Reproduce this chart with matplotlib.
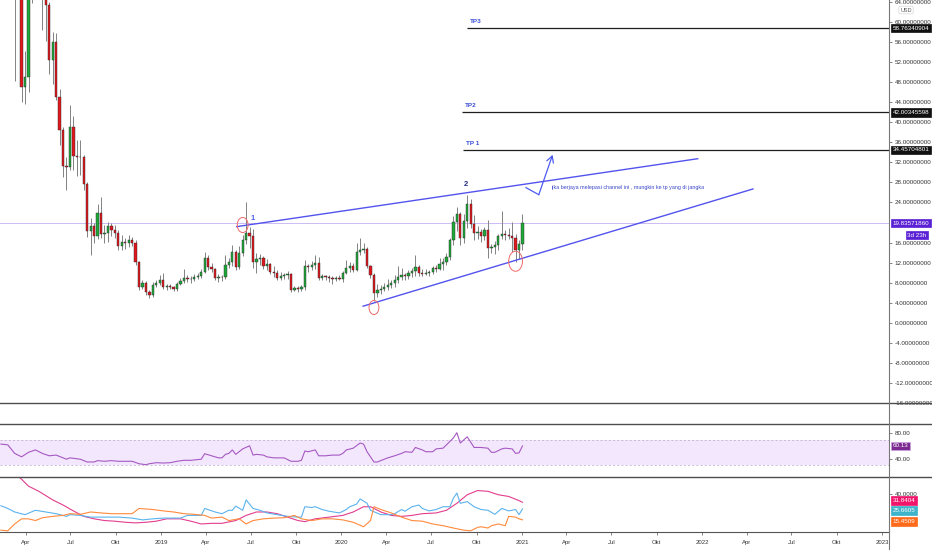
import numpy as np
import pandas as pd
import matplotlib
matplotlib.use('Agg')
from matplotlib import pyplot as plt
import matplotlib.dates as mdates
from matplotlib.patches import Ellipse
from matplotlib.lines import Line2D
from matplotlib.ticker import FormatStrFormatter

plt.rcParams['font.family'] = ['Liberation Sans', 'DejaVu Sans']

# weekly candles, USD
weeks = pd.date_range('2018-03-05', periods=148, freq='7D')
opens = [72, 68, 66, 47.1, 49.0, 70, 72, 80, 75, 66, 63.4, 52.4, 56.0, 45.1, 38.5, 31.2, 31.0, 39.0, 33.3, 33.1,
         33.0, 27.6, 18.4, 19.4, 17.4, 21.8, 17.8, 18.0, 19.4, 18.6, 18.0, 15.3, 16.2, 16.0, 16.6, 16.0, 12.2, 7.2, 8.0, 6.2,
         5.6, 7.6, 8.0, 8.6, 7.2, 7.3, 7.2, 6.8, 7.8, 8.4, 9.0, 8.7, 8.8, 9.2, 9.4, 10.2, 13.0, 11.2, 10.8, 9.0,
         9.2, 9.1, 11.6, 12.2, 14.2, 11.2, 14.0, 16.6, 18.0, 17.4, 12.2, 12.8, 13.0, 11.4, 11.8, 10.2, 10.0, 9.0, 9.4, 9.6,
         9.8, 6.6, 7.0, 6.8, 7.2, 11.4, 11.2, 11.6, 12.0, 9.0, 9.4, 9.1, 9.0, 8.8, 9.0, 8.8, 10.0, 11.0, 11.4, 10.6,
         14.2, 14.6, 14.8, 11.4, 9.6, 6.0, 6.6, 6.8, 7.2, 7.6, 8.0, 8.6, 9.2, 9.6, 9.4, 10.0, 10.4, 11.2, 10.0, 9.8,
         10.0, 10.1, 11.0, 10.8, 11.8, 12.2, 13.2, 16.6, 20.2, 21.6, 17.0, 20.4, 23.6, 19.8, 18.0, 18.2, 17.4, 18.6, 15.0, 15.2,
         15.6, 17.4, 17.8, 17.6, 17.4, 17.0, 14.6, 15.8]
highs = [80, 76, 70, 54.2, 75, 85, 90, 88, 80, 70, 64.0, 58.0, 57.8, 46.6, 39.0, 33.0, 43.5, 41.3, 36.5, 36.5,
         33.5, 28.0, 20.9, 20.0, 23.6, 25.1, 19.6, 20.2, 20.0, 19.6, 18.6, 17.6, 17.0, 17.6, 17.2, 16.6, 12.4, 8.6, 8.4, 6.6,
         8.1, 8.6, 9.6, 10.0, 7.8, 7.8, 7.4, 8.2, 9.0, 10.8, 9.6, 9.4, 9.8, 10.0, 10.8, 14.2, 13.6, 12.0, 11.0, 9.8,
         9.6, 13.6, 13.0, 15.6, 14.6, 15.4, 17.6, 24.1, 19.2, 18.8, 14.0, 13.8, 13.4, 12.8, 12.0, 11.4, 10.6, 10.2, 10.0, 10.4,
         10.0, 7.4, 7.4, 7.6, 12.6, 11.8, 12.4, 13.6, 13.2, 9.8, 9.6, 9.6, 9.4, 9.4, 9.6, 10.4, 12.6, 12.2, 12.0, 16.0,
         17.0, 16.0, 15.2, 11.6, 10.0, 7.8, 7.6, 8.0, 8.8, 8.6, 9.6, 11.4, 11.0, 10.0, 10.6, 11.0, 13.6, 11.6, 10.8, 10.8,
         10.6, 11.4, 11.6, 13.0, 13.0, 14.0, 17.0, 21.2, 23.0, 22.0, 21.6, 25.5, 24.6, 21.4, 19.4, 18.8, 19.2, 20.6, 15.8, 16.4,
         17.8, 22.2, 18.6, 19.0, 20.2, 17.8, 16.6, 21.6]
lows = [48.2, 65, 44.0, 43.7, 46.0, 63.8, 66, 65, 58.4, 56.2, 49.6, 47.6, 44.4, 35.5, 29.0, 26.5, 30.5, 30.5, 29.2, 29.4,
        26.5, 17.2, 13.6, 16.0, 16.8, 17.0, 16.0, 16.2, 17.4, 17.0, 14.6, 14.6, 14.8, 15.2, 15.4, 11.6, 6.6, 6.8, 5.6, 5.0,
        5.2, 7.2, 7.6, 6.8, 6.6, 6.8, 6.4, 6.4, 7.6, 8.0, 8.2, 8.0, 8.4, 8.8, 9.0, 10.0, 10.6, 10.2, 8.6, 8.2,
        8.4, 8.8, 11.0, 11.4, 10.6, 10.8, 13.4, 15.8, 15.0, 11.0, 10.0, 11.6, 10.8, 10.6, 9.8, 9.2, 8.6, 8.6, 8.8, 8.8,
        6.2, 6.4, 6.2, 6.4, 6.6, 10.2, 10.6, 10.8, 8.6, 8.6, 8.6, 8.2, 7.8, 8.4, 8.6, 8.2, 9.8, 10.2, 10.2, 10.4,
        13.6, 14.0, 11.0, 9.0, 4.3, 5.2, 5.8, 6.4, 6.6, 7.0, 7.2, 8.0, 8.6, 8.6, 8.8, 9.2, 9.4, 9.4, 9.4, 9.6,
        9.4, 9.8, 10.2, 10.6, 10.6, 11.6, 12.6, 15.6, 18.4, 15.6, 16.0, 19.0, 19.0, 16.6, 16.8, 16.2, 16.6, 13.0, 14.0, 13.8,
        14.6, 16.8, 16.6, 16.8, 14.2, 12.2, 12.8, 14.6]
closes = [68, 67, 47.1, 49.0, 70, 72, 80, 75, 66, 63.4, 52.4, 56.0, 45.1, 38.5, 31.2, 31.0, 39.0, 33.3, 33.1, 33.0,
          27.6, 18.4, 19.4, 17.4, 21.8, 17.8, 18.0, 19.4, 18.6, 18.0, 15.3, 16.2, 16.0, 16.6, 16.0, 12.2, 7.2, 8.0, 6.2, 5.6,
          7.6, 8.0, 8.6, 7.2, 7.3, 7.2, 6.8, 7.8, 8.4, 9.0, 8.7, 8.8, 9.2, 9.4, 10.2, 13.0, 11.2, 10.8, 9.0, 9.2,
          9.1, 11.6, 12.2, 14.2, 11.2, 14.0, 16.6, 18.0, 17.4, 12.2, 12.8, 13.0, 11.4, 11.8, 10.2, 10.0, 9.0, 9.4, 9.6, 9.8,
          6.6, 7.0, 6.8, 7.2, 11.4, 11.2, 11.6, 12.0, 9.0, 9.4, 9.1, 9.0, 8.8, 9.0, 8.8, 10.0, 11.0, 11.4, 10.6, 14.2,
          14.6, 14.8, 11.4, 9.6, 6.0, 6.6, 6.8, 7.2, 7.6, 8.0, 8.6, 9.2, 9.6, 9.4, 10.0, 10.4, 11.2, 10.0, 9.8, 10.0,
          10.1, 11.0, 10.8, 11.8, 12.2, 13.2, 16.6, 20.2, 21.6, 17.0, 20.4, 23.6, 19.8, 18.0, 18.2, 17.4, 18.6, 15.0, 15.2, 15.6,
          17.4, 17.8, 17.6, 17.4, 17.0, 14.6, 15.8, 19.83571860]
last_price = 19.83571860

# RSI, week number counted from the first candle
rsi_week = [-4, -2, 0, 2, 4, 6, 8, 10, 12, 15, 16, 19, 21, 23, 24, 26, 28, 30, 32, 34, 36, 38, 39, 41, 43, 45, 47, 49, 51, 54,
            55, 57, 59, 60, 61, 62, 63, 64, 66, 68, 69, 70, 72, 73, 75, 77, 78, 80, 82, 83, 84, 85, 87, 88, 90, 92, 94, 95, 96, 98,
            100, 101, 102, 104, 105, 107, 108, 110, 112, 113, 115, 116, 118, 119, 121, 122, 124, 125, 127, 128, 129, 131, 133, 135,
            137, 138, 139, 141, 142, 144, 145, 146, 147]
rsi_val = [63.0, 61.9, 48.6, 43.3, 50.3, 54.0, 48.6, 44.9, 46.0, 39.6, 41.7, 39.6, 35.3, 35.3, 37.4, 36.4, 37.4, 36.4, 36.4, 36.4,
           32.6, 31.1, 32.6, 34.2, 33.7, 34.2, 36.4, 37.9, 37.9, 39.6, 48.1, 44.9, 41.7, 41.7, 47.1, 48.6, 54.0, 47.1, 55.6, 60.4,
           46.0, 47.1, 46.0, 43.3, 41.7, 41.7, 41.7, 36.4, 36.4, 37.9, 52.3, 51.2, 54.0, 44.9, 44.9, 46.0, 46.0, 48.6, 54.0, 56.7,
           64.7, 63.0, 51.2, 35.3, 35.3, 39.6, 41.7, 44.9, 48.6, 51.2, 50.3, 57.8, 54.0, 51.2, 51.2, 55.6, 56.7, 61.9, 72.6, 80.7,
           64.7, 74.3, 57.8, 57.8, 56.7, 50.3, 50.3, 55.6, 56.7, 55.6, 48.6, 49.5, 60.13]

# DMI: ADX (pink), +DI (blue), -DI (orange)
adx_week = [0, 2, 4, 7, 11, 14, 17, 20, 23, 26, 29, 32, 35, 38, 41, 44, 48, 51, 54, 57, 60, 64, 67, 70, 73, 76, 79, 82, 84, 87,
            91, 95, 98, 101, 103, 106, 109, 112, 115, 118, 122, 125, 128, 131, 134, 137, 140, 143, 146, 147]
adx_val = [59.0, 53.4, 46.9, 42.1, 34.1, 29.3, 23.8, 18.7, 16.4, 14.8, 14.2, 13.2, 12.6, 13.2, 14.2, 16.4, 16.4, 14.2, 11.6, 12.2,
           12.2, 14.8, 19.6, 22.8, 22.8, 21.2, 18.0, 14.8, 13.8, 16.4, 18.0, 19.6, 22.8, 27.7, 27.7, 22.8, 19.6, 18.7, 19.6, 21.2,
           21.9, 24.4, 30.9, 38.9, 42.8, 42.1, 38.9, 37.3, 33.4, 31.8404]
pdi_week = [-4, -2, 0, 3, 6, 9, 12, 15, 16, 19, 22, 26, 30, 34, 37, 40, 43, 46, 48, 50, 54, 55, 58, 60, 62, 63, 64, 66, 67, 69,
            71, 73, 76, 79, 82, 83, 84, 86, 87, 89, 91, 94, 96, 97, 99, 100, 102, 103, 106, 109, 110, 112, 113, 115, 117, 118,
            120, 122, 124, 126, 127, 128, 129, 131, 133, 135, 137, 139, 141, 143, 145, 146, 147]
pdi_val = [28.6, 26.1, 22.8, 20.3, 24.4, 22.8, 21.2, 18.7, 20.3, 19.6, 18.0, 18.0, 18.0, 17.1, 15.4, 16.4, 17.1, 17.1, 17.1, 19.6,
           19.6, 26.1, 22.8, 21.2, 24.4, 24.4, 28.3, 24.4, 34.1, 26.1, 24.4, 21.9, 20.3, 18.7, 18.0, 18.0, 27.7, 27.0, 27.7, 25.1,
           23.5, 21.9, 25.1, 27.7, 30.2, 35.0, 30.9, 24.4, 20.3, 20.3, 21.2, 25.1, 23.5, 27.7, 29.3, 26.1, 23.8, 25.1, 27.7, 27.7,
           35.7, 40.5, 30.9, 32.5, 27.7, 25.1, 24.4, 20.6, 26.1, 23.8, 25.1, 20.3, 25.6605]
mdi_week = [-4, -2, 0, 2, 4, 6, 8, 11, 14, 16, 19, 22, 25, 28, 32, 34, 36, 40, 43, 46, 49, 52, 55, 57, 60, 62, 65, 67, 69, 72,
            75, 78, 81, 83, 86, 89, 92, 95, 98, 101, 103, 104, 106, 109, 112, 115, 118, 121, 124, 127, 130, 132, 134, 135, 137,
            138, 140, 142, 143, 145, 146, 147]
mdi_val = [5.8, 5.2, 11.6, 16.4, 16.4, 14.8, 17.4, 18.7, 19.6, 21.2, 20.6, 22.8, 21.9, 21.2, 21.2, 21.2, 26.1, 25.1, 23.8, 22.8,
           21.2, 20.6, 19.6, 17.1, 18.0, 14.8, 16.4, 11.6, 14.8, 16.4, 17.1, 17.4, 19.6, 16.4, 14.8, 16.4, 16.4, 15.4, 13.2, 9.0,
           14.8, 27.7, 25.1, 21.9, 18.0, 14.8, 14.2, 11.6, 10.0, 7.8, 5.8, 5.2, 8.4, 9.0, 7.8, 10.0, 11.6, 10.0, 18.7, 18.0,
           16.4, 15.4509]

# drawings on the chart
tp_names = ['TP3', 'TP2', 'TP 1']
tp_levels = [58.76340904, 42.00345598, 34.45704801]
tp_start = ['2020-09-12', '2020-09-02', '2020-09-04']
upper_dates = ['2019-06-03', '2021-12-23']
upper_prices = [19.18, 32.72]
lower_dates = ['2020-02-14', '2022-04-14']
lower_prices = [3.32, 26.69]
arrow_dates = ['2021-01-09', '2021-02-04', '2021-03-04']
arrow_prices = [26.95, 25.55, 33.5]
circle_dates = ['2019-06-15', '2020-03-07', '2020-12-19']
circle_prices = [19.5, 3.06, 12.28]
circle_days = [22, 20, 28]
circle_span = [3.0, 2.8, 4.0]
note = 'jika berjaya melepasi channel ini , mungkin ke tp yang di jangka'

BAR_SHIFT = 5  # days, bars drawn a bit into their week


def dnum(d):
    return mdates.date2num(pd.to_datetime(d))


def week_dates(idx):
    return mdates.date2num(weeks[0] + pd.to_timedelta(np.array(idx) * 7, unit='D')) + BAR_SHIFT


W, H = 932, 550
fig = plt.figure(figsize=(W / 100, H / 100), dpi=100)
fig.patch.set_facecolor('white')


def pane(top, bottom):
    return fig.add_axes([0, 1 - bottom / H, 889 / W, (bottom - top) / H])


ax = pane(0, 403.3)
ax_rsi = pane(424.3, 476.7)
ax_dmi = pane(476.7, 532)

t0 = dnum('2021-01-01')
xlim = (t0 - 522 / 0.4935, t0 + 367 / 0.4935)
for a in (ax, ax_rsi, ax_dmi):
    a.set_xlim(*xlim)
    for s in a.spines.values():
        s.set_visible(False)
    a.yaxis.tick_right()
    a.tick_params(axis='y', labelsize=4.5, length=2.5, width=0.5, color='#555555', labelcolor='#333333', pad=1.5)
    a.tick_params(axis='x', bottom=False, labelbottom=False)

# candles
x = mdates.date2num(weeks) + BAR_SHIFT
o, h, l, c = map(np.array, (opens, highs, lows, closes))
up = c >= o
body_lo = np.minimum(o, c)
body_h = np.maximum(np.abs(c - o), 0.12)
ax.vlines(x, l, h, color='#828282', lw=0.7, zorder=2)
ax.bar(x[up], body_h[up], bottom=body_lo[up], width=4.6, color='#1fa83a', edgecolor='#2b2b2b', linewidth=0.3, zorder=3)
ax.bar(x[~up], body_h[~up], bottom=body_lo[~up], width=4.6, color='#e2161d', edgecolor='#2b2b2b', linewidth=0.3, zorder=3)

ax.set_ylim(-16.04, 64.36)
# the 20 label sits under the live price tag, as on the reference
ax.set_yticks([v for v in np.arange(-16, 65, 4) if v != 20])
ax.yaxis.set_major_formatter(FormatStrFormatter('%.8f'))
ax.axhline(last_price, color='#c3b2f2', lw=0.6, zorder=1)

# targets
ax.hlines(tp_levels, [dnum(d) for d in tp_start], xlim[1], color='#1e1e1e', lw=0.9, zorder=4)
for name, lev, d in zip(tp_names, tp_levels, tp_start):
    ax.annotate(name, xy=(dnum(d), lev), xytext=(2, 5), textcoords='offset points',
                fontsize=4.6, color='#3a4fd8', va='center', ha='left', fontweight='bold')

# channel
ax.plot([dnum(d) for d in upper_dates], upper_prices, color='#5353ee', lw=1.0, zorder=5)
ax.plot([dnum(d) for d in lower_dates], lower_prices, color='#5353ee', lw=1.0, zorder=5)
for d, p, w, hh in zip(circle_dates, circle_prices, circle_days, circle_span):
    ax.add_patch(Ellipse((dnum(d), p), w, hh, fill=False, ec='#ee6a6a', lw=0.7, zorder=6))
ax.text(dnum('2019-07-05'), 20.76, '1', fontsize=5.5, color='#4d5fee', ha='center', va='center', fontweight='bold')
ax.text(dnum('2020-09-10'), 27.55, '2', fontsize=5.5, color='#232a80', ha='center', va='center', fontweight='bold')

ax.plot([dnum(d) for d in arrow_dates[:2]], arrow_prices[:2], color='#4e5cf0', lw=0.9)
ax.annotate('', xy=(dnum(arrow_dates[2]), arrow_prices[2]), xytext=(dnum(arrow_dates[1]), arrow_prices[1]),
            arrowprops=dict(arrowstyle='->,head_length=0.45,head_width=0.25', color='#4e5cf0', lw=0.9,
                            shrinkA=0, shrinkB=0))
ax.text(dnum('2021-02-28'), 26.95, note, fontsize=3.9, color='#3a46c8', ha='left', va='center')


def price_tag(a, value, text, fc, ec=None, dx=2.5, dy=0, ha='left', pad=0.3):
    a.annotate(text, xy=(1, value), xycoords=a.get_yaxis_transform(), xytext=(dx, dy),
               textcoords='offset points', ha=ha, va='center', fontsize=4.5, color='white',
               bbox=dict(boxstyle='square,pad=%s' % pad, fc=fc, ec=ec or fc, lw=0.5),
               annotation_clip=False, zorder=10)


for lev in tp_levels:
    price_tag(ax, lev, '%.8f' % lev, '#111111')
price_tag(ax, last_price, '%.8f' % last_price, '#5a22d4', pad=0.25)
price_tag(ax, last_price, '3d 23h', '#5a22d4', dx=20, dy=-8.6, ha='center', pad=0.25)

# RSI
ax_rsi.axhspan(30, 70, color='#f3e7fd', lw=0, zorder=0)
for lev in (70, 30):
    ax_rsi.axhline(lev, color='#b7a9c4', lw=0.5, ls=(0, (3, 3)), zorder=1)
ax_rsi.plot(week_dates(rsi_week), rsi_val, color='#a659c2', lw=0.8, zorder=3)
ax_rsi.set_ylim(12.5, 93.7)
ax_rsi.set_yticks([40, 80])
ax_rsi.yaxis.set_major_formatter(FormatStrFormatter('%.2f'))
price_tag(ax_rsi, rsi_val[-1], '%.2f' % rsi_val[-1], '#7b2a8f', ec='#caa6e2')

# DMI
ax_dmi.plot(week_dates(adx_week), adx_val, color='#e23d8e', lw=0.8)
ax_dmi.plot(week_dates(pdi_week), pdi_val, color='#5bb3ee', lw=0.8)
ax_dmi.plot(week_dates(mdi_week), mdi_val, color='#ff8a3d', lw=0.8)
ax_dmi.set_ylim(4.1, 55.75)
ax_dmi.set_yticks([40])
ax_dmi.yaxis.set_major_formatter(FormatStrFormatter('%.4f'))
price_tag(ax_dmi, adx_val[-1], '%.4f' % adx_val[-1], '#f0146b', dy=1.5)
price_tag(ax_dmi, pdi_val[-1], '%.4f' % pdi_val[-1], '#3eb3c9', dy=-1)
price_tag(ax_dmi, mdi_val[-1], '%.4f' % mdi_val[-1], '#ff6b1a', dy=-1)

ax_dmi.spines['bottom'].set_visible(True)
ax_dmi.spines['bottom'].set_color('#555555')
ax_dmi.spines['bottom'].set_linewidth(0.8)
ticks = pd.date_range('2018-04-01', '2023-01-01', freq='QS')
names = {4: 'Apr', 7: 'Jul', 10: 'Okt'}
ax_dmi.set_xticks(mdates.date2num(ticks))
ax_dmi.set_xticklabels([str(t.year) if t.month == 1 else names[t.month] for t in ticks])
ax_dmi.tick_params(axis='x', bottom=True, labelbottom=True, labelsize=4.3, length=2, width=0.5,
                   color='#555555', labelcolor='#333333', pad=3.5)

# pane separators and price scale border
for yy in (403.3, 424.3, 476.7):
    fig.add_artist(Line2D([0, 1], [1 - yy / H] * 2, color='#4d4d4d', lw=1.0))
fig.add_artist(Line2D([889 / W] * 2, [0, 1], color='#777777', lw=0.8))
fig.text(906 / W, 1 - 10 / H, 'USD', fontsize=4, color='#555555', ha='center', va='center',
         bbox=dict(boxstyle='round,pad=0.25', fc='white', ec='#cccccc', lw=0.4))

fig.savefig('out.png', dpi=100)
